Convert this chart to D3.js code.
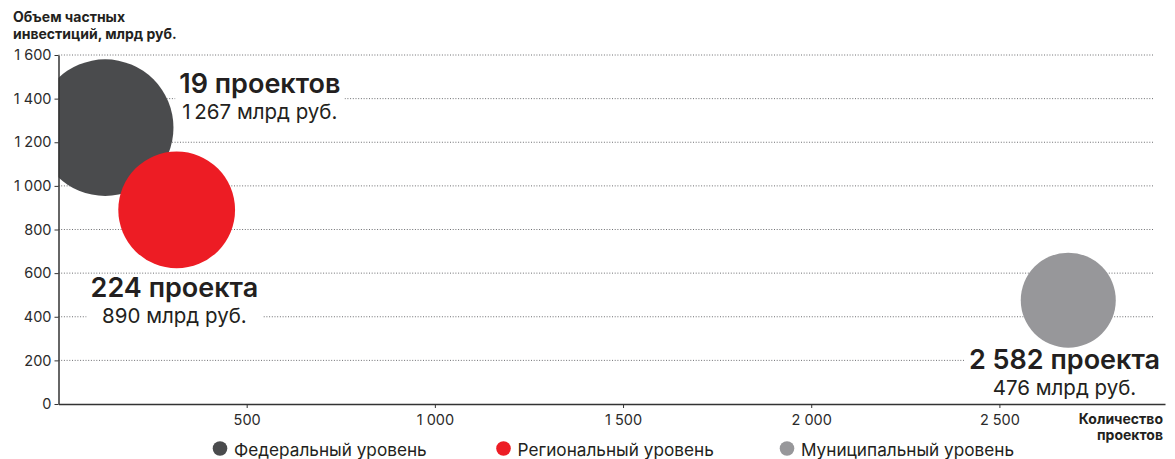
<!DOCTYPE html>
<html>
<head>
<meta charset="utf-8">
<script src="https://cdn.jsdelivr.net/npm/d3@7"></script>
<style>
  html, body { margin: 0; padding: 0; background: #fff; }
  svg { display: block; font-family: "Inter", "Roboto", sans-serif; }
</style>
</head>
<body>
<svg id="chart" width="1175" height="459"></svg>
<script>
// ---- data ----
const levels = ["Федеральный уровень", "Региональный уровень", "Муниципальный уровень"];
const projectCounts = [19, 224, 2582];           // number of projects (label)
const investments = [1267, 890, 476];            // bn RUB (y)
const bubbleX = [124, 314, 2683];                // x position on count axis as drawn
const labelX = [535, 308, 2673];                 // label centre on count axis
const labelY = [1427, 492, 159];                 // label baseline on value axis
const countWords = ["проектов", "проекта", "проекта"];
const colors = ["#4a4b4d", "#ed1c24", "#97979a"];
const yTicks = [0, 200, 400, 600, 800, 1000, 1200, 1400, 1600];
const xTicks = [500, 1000, 1500, 2000, 2500];

// ---- setup ----
const svg = d3.select("#chart");
const x0 = 58.5, x1 = 1165, y0 = 404, y1 = 55, gridEnd = 1154;
const x = d3.scaleLinear().domain([0, 2940]).range([x0, x1]);
const y = d3.scaleLinear().domain([0, 1600]).range([y0, y1]);
const r = d3.scaleLinear().domain([476, 1267]).range([47.5, 68.3]);
const fmt = v => d3.format(",")(v).replace(/,/g, " ");
const fmtThin = v => d3.format(",")(v).replace(/,/g, "\u2009");
const ink = "#231f20";

// gridlines
svg.append("g").selectAll("line").data(yTicks.filter(d => d > 0)).join("line")
  .attr("x1", x0).attr("x2", gridEnd)
  .attr("y1", d => y(d)).attr("y2", d => y(d))
  .attr("stroke", "#6d6e71").attr("stroke-width", 1)
  .attr("stroke-dasharray", "1,1.7");

// labels
const labelsG = svg.append("g");
const labels = labelsG.selectAll("g").data(levels).join("g")
  .attr("transform", (d, i) => `translate(${x(labelX[i])},${y(labelY[i])})`);
labels.append("text")
  .attr("text-anchor", "middle")
  .attr("font-size", 27).attr("font-weight", 600).attr("fill", ink)
  .text((d, i) => fmt(projectCounts[i]) + " " + countWords[i]);
labels.append("text")
  .attr("text-anchor", "middle").attr("y", 26)
  .attr("font-size", 20.5).attr("font-weight", 400).attr("fill", ink)
  .text((d, i) => fmtThin(investments[i]) + " млрд руб.");
labels.each(function() {
  const g = d3.select(this);
  const bb = this.getBBox();
  g.insert("rect", ":first-child")
    .attr("x", bb.x - 4).attr("y", -21)
    .attr("width", bb.width + 8).attr("height", 53)
    .attr("fill", "#fff");
});

// bubbles (clipped to plot area)
svg.append("clipPath").attr("id", "plot")
  .append("rect").attr("x", x0).attr("y", 0).attr("width", x1 - x0).attr("height", y0);
svg.append("g").attr("clip-path", "url(#plot)")
  .selectAll("circle").data(levels).join("circle")
  .attr("cx", (d, i) => x(bubbleX[i]))
  .attr("cy", (d, i) => y(investments[i]))
  .attr("r", (d, i) => r(investments[i]))
  .attr("fill", (d, i) => colors[i]);

labelsG.raise();

// axes
const xAxis = svg.append("g").attr("transform", `translate(0,${y0})`)
  .call(d3.axisBottom(x).tickValues(xTicks).tickFormat(fmt).tickSize(4).tickPadding(7).tickSizeOuter(0));
const yAxis = svg.append("g").attr("transform", `translate(${x0},0)`)
  .call(d3.axisLeft(y).tickValues(yTicks).tickFormat(fmt).tickSize(4).tickPadding(3).tickSizeOuter(0));
[xAxis, yAxis].forEach(a => {
  a.select(".domain").attr("stroke", "#333").attr("stroke-width", 1.5);
  a.selectAll(".tick line").attr("stroke", "#333");
  a.selectAll(".tick text").attr("fill", "#2b2b2b").attr("font-size", 14.5)
    .attr("font-family", "Inter, Roboto, sans-serif");
});

// axis titles
const yTitle = svg.append("text").attr("x", 13).attr("y", 22)
  .attr("font-size", 14).attr("font-weight", 700).attr("fill", ink);
yTitle.append("tspan").attr("x", 13).text("Объем частных");
yTitle.append("tspan").attr("x", 13).attr("dy", 16.6).text("инвестиций, млрд руб.");

const xTitle = svg.append("text").attr("x", 1163).attr("y", 423.5)
  .attr("text-anchor", "end")
  .attr("font-size", 14).attr("font-weight", 700).attr("fill", ink);
xTitle.append("tspan").attr("x", 1163).text("Количество");
xTitle.append("tspan").attr("x", 1163).attr("dy", 16.6).text("проектов");

// legend
const lx = d3.scalePoint().domain(levels).range([220, 787]);
const legend = svg.append("g").selectAll("g").data(levels).join("g")
  .attr("transform", d => `translate(${lx(d)},448.5)`);
legend.append("circle").attr("r", 7.3).attr("fill", (d, i) => colors[i]);
legend.append("text").attr("x", 14).attr("y", 7)
  .attr("font-size", 17.2).attr("fill", ink).text(d => d);
</script>
</body>
</html>
